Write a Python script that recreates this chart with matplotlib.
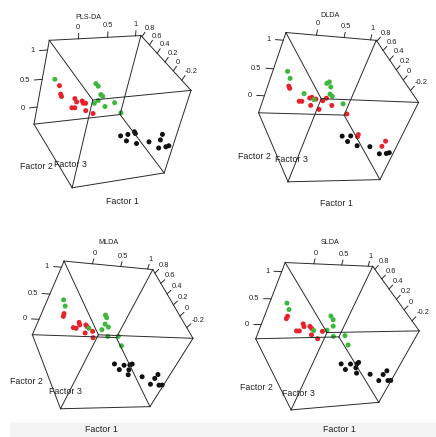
import itertools

import numpy as np
import matplotlib
matplotlib.use("Agg")
import matplotlib.pyplot as plt
from matplotlib.patches import Rectangle
from mpl_toolkits.mplot3d import proj3d

plt.rcParams['font.family'] = ['Liberation Sans', 'DejaVu Sans']

# sample scores, one (x, y, z) triple per sample
# x = diagonal axis (0.8 ... -0.2), y = top axis (0 ... 1), z = vertical axis (0 ... 1)
plsda_green = [(0.58, -0.432, 0.693), (0.58, 0.289, 0.555), (0.58, 0.341, 0.505),
               (0.58, 0.423, 0.345), (0.58, 0.466, 0.310), (0.58, 0.402, 0.240),
               (0.58, 0.344, 0.193), (0.58, 0.554, 0.111), (0.58, 0.717, 0.165),
               (0.58, 0.888, -0.045)]
plsda_red = [(0.58, -0.335, 0.576), (0.58, -0.286, 0.423), (0.58, -0.263, 0.379),
             (0.58, -0.024, 0.317), (0.58, 0.020, 0.252), (0.58, 0.116, 0.259),
             (0.58, 0.144, 0.215), (0.58, 0.185, 0.211), (0.58, -0.042, 0.152),
             (0.58, 0.011, 0.146), (0.58, 0.219, 0.070), (0.58, 0.364, 0.000)]
plsda_black = [(-0.35, 0.166, 0.444), (-0.35, 0.284, 0.454), (-0.35, 0.383, 0.488),
               (-0.35, 0.409, 0.453), (-0.35, 0.290, 0.340), (-0.35, 0.480, 0.267),
               (-0.35, 0.695, 0.267), (-0.35, 0.899, 0.373), (-0.35, 0.893, 0.275),
               (-0.35, 0.908, 0.124), (-0.35, 1.036, 0.128), (-0.35, 1.085, 0.140)]

dlda_green = [(0.57, -0.455, 0.680), (0.57, -0.370, 0.560), (0.57, -0.030, 0.299),
              (0.57, 0.188, 0.194), (0.57, 0.306, 0.504), (0.57, 0.340, 0.533),
              (0.57, 0.403, 0.443), (0.57, 0.443, 0.309), (0.57, 0.500, 0.270),
              (0.57, 0.762, 0.134)]
dlda_red = [(0.57, -0.345, 0.422), (0.57, -0.316, 0.382), (0.57, -0.065, 0.153),
            (0.57, -0.017, 0.154), (0.57, 0.101, 0.219), (0.57, 0.136, 0.234),
            (0.57, 0.170, 0.083), (0.57, 0.220, 0.205), (0.57, 0.353, 0.011),
            (0.57, 0.357, 0.178), (0.57, 0.408, 0.230), (0.57, 0.562, 0.095),
            (0.57, 0.918, -0.064), (-0.36, 0.383, 0.479), (-0.36, 0.386, 0.442),
            (-0.36, 0.927, 0.362), (-0.36, 0.906, 0.264)]
dlda_black = [(-0.36, 0.117, 0.448), (-0.36, 0.262, 0.453), (-0.36, 0.251, 0.351),
              (-0.36, 0.452, 0.274), (-0.36, 0.689, 0.257), (-0.36, 0.925, 0.120),
              (-0.36, 1.054, 0.125), (-0.36, 1.102, 0.141)]

mlda_green = [(0.62, -0.409, 0.655), (0.62, -0.337, 0.541), (0.62, 0.428, 0.412),
              (0.62, 0.473, 0.362), (0.62, 0.504, 0.230), (0.62, 0.592, 0.173),
              (0.62, 0.250, 0.133), (0.62, 0.499, 0.113), (0.62, 0.670, -0.021),
              (0.62, 0.868, -0.013), (0.62, 1.026, -0.215)]
mlda_red = [(0.62, -0.299, 0.398), (0.62, -0.290, 0.344), (0.62, -0.028, 0.131),
            (0.62, 0.025, 0.120), (0.62, 0.028, 0.241), (0.62, 0.060, 0.191),
            (0.62, 0.168, 0.196), (0.62, 0.207, 0.161), (0.62, 0.225, 0.033),
            (0.62, 0.346, 0.072), (0.62, 0.411, -0.060)]
mlda_black = [(-0.38, 0.018, 0.586), (-0.38, 0.150, 0.477), (-0.38, 0.190, 0.563),
              (-0.38, 0.284, 0.571), (-0.38, 0.315, 0.588), (-0.38, 0.315, 0.474),
              (-0.38, 0.352, 0.375), (-0.38, 0.616, 0.335), (-0.38, 0.848, 0.178),
              (-0.38, 0.861, 0.301), (-0.38, 0.876, 0.382), (-0.38, 1.016, 0.157),
              (-0.38, 1.074, 0.159)]

slda_green = [(0.61, -0.406, 0.667), (0.61, -0.327, 0.547), (0.61, 0.475, 0.420),
              (0.61, 0.549, 0.346), (0.61, 0.606, 0.215), (0.61, 0.276, 0.130),
              (0.61, 0.524, 0.132), (0.61, 0.702, 0.000), (0.61, 0.924, 0.011),
              (0.61, 1.081, -0.196)]
slda_red = [(0.61, -0.304, 0.419), (0.61, -0.308, 0.374), (0.61, -0.037, 0.128),
            (0.61, 0.016, 0.126), (0.61, 0.029, 0.268), (0.61, 0.066, 0.212),
            (0.61, 0.172, 0.215), (0.61, 0.222, 0.171), (0.61, 0.271, 0.042),
            (0.61, 0.419, -0.042), (0.61, 0.447, 0.110)]
slda_black = [(-0.38, -0.006, 0.578), (-0.38, 0.118, 0.464), (-0.38, 0.159, 0.567),
              (-0.38, 0.272, 0.564), (-0.38, 0.289, 0.591), (-0.38, 0.288, 0.489),
              (-0.38, 0.352, 0.379), (-0.38, 0.614, 0.340), (-0.38, 0.847, 0.195),
              (-0.38, 0.866, 0.318), (-0.38, 0.899, 0.392), (-0.38, 1.026, 0.183),
              (-0.38, 1.080, 0.181)]

vert_ticks = [0, 0.5, 1]
vert_labels = ['0', '0.5', '1']
top_ticks = [0, 0.5, 1]
top_labels = ['0', '0.5', '1']
diag_ticks = [0.8, 0.6, 0.4, 0.2, 0, -0.2]
diag_labels = ['0.8', '0.6', '0.4', '0.2', '0', '-0.2']

FIG_W, FIG_H = 436, 437
RED, GREEN, BLACK = '#e8222a', '#3cb83c', '#111111'
EDGE = '#2a2a2a'
TEXT = '#222222'
FS_TICK = 5.4
FS_TITLE = 5.2
FS_LAB = 6.4
FOCAL = 0.75

panels = [
    dict(title='PLS-DA', red=plsda_red, green=plsda_green, black=plsda_black,
         xlim=(0.83, -0.41), ylim=(-0.48, 1.10), zlim=(-0.32, 1.16),
         elev=33.2, azim=-33.8, roll=-14.1, aspect=(102.5, 104.2, 102.4),
         centre=(108.1, 108.2), title_xy=(88.3, 17.2),
         f1=(122.5, 201.7), f2=(36.5, 166.8), f3=(70.5, 164.5)),
    dict(title='DLDA', red=dlda_red, green=dlda_green, black=dlda_black,
         xlim=(0.82, -0.42), ylim=(-0.53, 1.11), zlim=(-0.33, 1.13),
         elev=33.5, azim=-34.5, roll=-22.6, aspect=(102.6, 103.3, 102.2),
         centre=(334.1, 107.9), title_xy=(329.7, 15.5),
         f1=(336.3, 203.3), f2=(254.7, 156.7), f3=(291.3, 160)),
    dict(title='MLDA', red=mlda_red, green=mlda_green, black=mlda_black,
         xlim=(0.87, -0.38), ylim=(-0.48, 1.10), zlim=(-0.32, 1.11),
         elev=36.8, azim=-38.7, roll=-27.7, aspect=(101.2, 102.8, 99.95),
         centre=(108.5, 336.4), title_xy=(108.3, 243),
         f1=(101.7, 429.7), f2=(26.7, 382), f3=(65, 392)),
    dict(title='SLDA', red=slda_red, green=slda_green, black=slda_black,
         xlim=(0.86, -0.38), ylim=(-0.49, 1.09), zlim=(-0.29, 1.16),
         elev=35.1, azim=-40.9, roll=-25.3, aspect=(100.6, 103.6, 99.7),
         centre=(333.7, 335), title_xy=(329.7, 243),
         f1=(339.7, 429.7), f2=(256.3, 387.3), f3=(298, 394)),
]


def px_text(fig, xy, s, size):
    fig.text(xy[0] / FIG_W, 1 - xy[1] / FIG_H, s, ha='center', va='center',
             fontsize=size, color=TEXT)


def add_panel(fig, p):
    side = 0.9708 * np.linalg.norm(p['aspect'])
    cx, cy = p['centre']
    ax = fig.add_axes([(cx - side / 2) / FIG_W, 1 - (cy + side / 2) / FIG_H,
                       side / FIG_W, side / FIG_H], projection='3d')
    ax.set_proj_type('persp', focal_length=FOCAL)
    ax.view_init(elev=p['elev'], azim=p['azim'], roll=p['roll'])
    ax.set_box_aspect(p['aspect'])
    ax.set_xlim(*p['xlim'])
    ax.set_ylim(*p['ylim'])
    ax.set_zlim(*p['zlim'])
    ax.set_axis_off()
    ax.patch.set_alpha(0)
    ax.computed_zorder = False

    x0, x1 = p['xlim']
    y0, y1 = p['ylim']
    z0, z1 = p['zlim']
    sy, sz = y1 - y0, z1 - z0

    # shift the axes so the middle of the box lands where it sits in the scan
    M = ax.get_proj()
    mx, my, _ = proj3d.proj_transform((x0 + x1) / 2, (y0 + y1) / 2, (z0 + z1) / 2, M)
    dx, dy = ax.transData.transform((float(mx), float(my)))
    pos = ax.get_position()
    ax.set_position([pos.x0 + (cx - dx) / FIG_W, pos.y0 + (FIG_H - cy - dy) / FIG_H,
                     pos.width, pos.height])

    line = dict(color=EDGE, lw=0.7, clip_on=False)

    # wire box
    for yy, zz in itertools.product((y0, y1), (z0, z1)):
        ax.plot([x0, x1], [yy, yy], [zz, zz], **line)
    for xx, zz in itertools.product((x0, x1), (z0, z1)):
        ax.plot([xx, xx], [y0, y1], [zz, zz], **line)
    for xx, yy in itertools.product((x0, x1), (y0, y1)):
        ax.plot([xx, xx], [yy, yy], [z0, z1], **line)

    def label(x, y, z, s, ha):
        lx, ly, _ = proj3d.proj_transform(x, y, z, M)
        ax.text2D(float(lx), float(ly), s, transform=ax.transData, ha=ha,
                  va='center', fontsize=FS_TICK, color=TEXT, clip_on=False)

    # ticks
    for v, lab in zip(vert_ticks, vert_labels):
        ax.plot([x0, x0], [y0, y0 - 0.08 * sy], [v, v], **line)
        label(x0, y0 - 0.13 * sy, v, lab, 'right')
    for v, lab in zip(top_ticks, top_labels):
        ax.plot([x0, x0], [v, v - 0.01 * sy], [z1, z1 + 0.06 * sz], **line)
        label(x0, v - 0.03 * sy, z1 + 0.13 * sz, lab, 'center')
    for v, lab in zip(diag_ticks, diag_labels):
        ax.plot([v, v], [y1, y1 + 0.02 * sy], [z1, z1 + 0.05 * sz], **line)
        label(v, y1, z1 + 0.10 * sz, lab, 'left')

    for pts, colour in ((p['red'], RED), (p['green'], GREEN), (p['black'], BLACK)):
        xs, ys, zs = np.array(pts).T
        ax.scatter(xs, ys, zs, s=13, c=colour, depthshade=False,
                   edgecolors='none', clip_on=False)
    return ax


fig = plt.figure(figsize=(FIG_W / 100, FIG_H / 100), dpi=100)
fig.patch.set_facecolor('white')
# faint grey strip along the bottom of the scan
fig.patches.append(Rectangle((10 / FIG_W, 0), 1, 14 / FIG_H, transform=fig.transFigure,
                             color='#f3f3f3', zorder=-5))

for p in panels:
    add_panel(fig, p)
    px_text(fig, p['title_xy'], p['title'], FS_TITLE)
    px_text(fig, p['f1'], 'Factor 1', FS_LAB)
    px_text(fig, p['f2'], 'Factor 2', FS_LAB)
    px_text(fig, p['f3'], 'Factor 3', FS_LAB)

fig.savefig('out.png', dpi=100)
